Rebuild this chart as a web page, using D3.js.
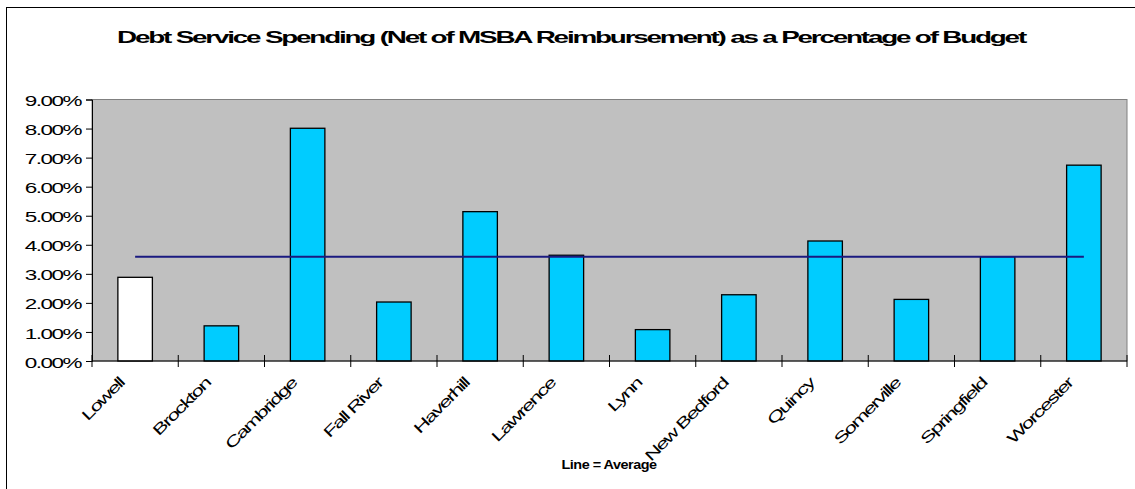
<!DOCTYPE html>
<html>
<head>
<meta charset="utf-8">
<script src="https://cdnjs.cloudflare.com/ajax/libs/d3/7.8.5/d3.min.js"></script>
<style>
  html, body { margin: 0; padding: 0; background: #ffffff; }
  svg { display: block; }
  text { font-family: Arial, "Liberation Sans", sans-serif; fill: #000; }
</style>
</head>
<body>
<svg id="chart" width="1135" height="489"></svg>
<script>
// ---- Data ----
const categories = ["Lowell", "Brockton", "Cambridge", "Fall River", "Haverhill", "Lawrence",
                    "Lynn", "New Bedford", "Quincy", "Somerville", "Springfield", "Worcester"];
const values = [2.88, 1.21, 8.01, 2.03, 5.14, 3.64, 1.08, 2.28, 4.13, 2.12, 3.59, 6.74]; // percent
const averageValue = [3.59]; // percent
const yTickValues = [0, 1, 2, 3, 4, 5, 6, 7, 8, 9];
const titleText = "Debt Service Spending (Net of MSBA Reimbursement) as a Percentage of Budget";
const noteText = "Line = Average";
const highlighted = ["Lowell"];

// ---- Layout ----
const svg = d3.select("#chart");
const plot = { left: 92, right: 1127, top: 99.5, bottom: 361 };
const stretch = 1.5;

// outer chart border (extends past right/bottom edge)
svg.append("rect")
  .attr("x", 6.5).attr("y", 7.5)
  .attr("width", 1140).attr("height", 500)
  .attr("fill", "#ffffff").attr("stroke", "#000").attr("stroke-width", 1);

const x = d3.scaleBand()
  .domain(categories)
  .range([plot.left, plot.right])
  .paddingInner(0.6)
  .paddingOuter(0.3);

const y = d3.scaleLinear()
  .domain([0, 9])
  .range([plot.bottom, plot.top]);

// plot area
svg.append("rect")
  .attr("x", plot.left).attr("y", plot.top)
  .attr("width", plot.right - plot.left).attr("height", plot.bottom - plot.top)
  .attr("fill", "#C0C0C0").attr("stroke", "#808080").attr("stroke-width", 1);

// bars
svg.append("g").selectAll("rect")
  .data(categories.map((c, i) => ({ c, v: values[i] })))
  .join("rect")
  .attr("x", d => x(d.c))
  .attr("y", d => y(d.v))
  .attr("width", x.bandwidth())
  .attr("height", d => y(0) - y(d.v))
  .attr("fill", d => highlighted.includes(d.c) ? "#ffffff" : "#00CCFF")
  .attr("stroke", "#000").attr("stroke-width", 1.3);

// average line
const first = categories[0], last = categories[categories.length - 1];
svg.append("line")
  .attr("x1", x(first) + x.bandwidth() / 2)
  .attr("x2", x(last) + x.bandwidth() / 2)
  .attr("y1", y(averageValue[0])).attr("y2", y(averageValue[0]))
  .attr("stroke", "#1a1a80").attr("stroke-width", 2);

// y axis
const yAxis = svg.append("g")
  .attr("transform", `translate(${plot.left},0)`)
  .call(d3.axisLeft(y).tickValues(yTickValues).tickFormat(d => d.toFixed(2) + "%").tickSize(6).tickPadding(5));
yAxis.select(".domain").attr("stroke", "#000");
yAxis.selectAll(".tick line").attr("stroke", "#000");
yAxis.selectAll(".tick text")
  .attr("x", null).attr("dy", null)
  .attr("dominant-baseline", "central")
  .attr("transform", `translate(-11,1) scale(${stretch},1)`)
  .style("font-size", "15px").style("letter-spacing", "-1px")
  .style("font-family", "Arial, 'Liberation Sans', sans-serif")
  .attr("fill", "#000");

// x axis line
svg.append("line")
  .attr("x1", plot.left).attr("x2", plot.right)
  .attr("y1", plot.bottom).attr("y2", plot.bottom)
  .attr("stroke", "#000").attr("stroke-width", 1);

// x ticks at category boundaries
const boundaries = categories.map(c => x(c) - (x.step() - x.bandwidth()) / 2).concat([plot.right]);
svg.append("g").selectAll("line")
  .data(boundaries)
  .join("line")
  .attr("x1", d => d).attr("x2", d => d)
  .attr("y1", plot.bottom - 6).attr("y2", plot.bottom + 6)
  .attr("stroke", "#000").attr("stroke-width", 1);

// x labels rotated
svg.append("g").selectAll("text")
  .data(categories)
  .join("text")
  .attr("text-anchor", "end")
  .attr("transform", d => `translate(${x(d) + x.bandwidth() / 2 - 10},${plot.bottom + 23}) rotate(-45) scale(${stretch},1)`)
  .style("font-size", "15px").style("letter-spacing", "-1.2px")
  .text(d => d);

// title
svg.append("text")
  .attr("x", 571).attr("y", 43)
  .attr("text-anchor", "middle")
  .attr("textLength", 908).attr("lengthAdjust", "spacingAndGlyphs")
  .style("font-size", "16.5px").style("font-weight", "bold").style("letter-spacing", "-1.3px")
  .text(titleText);

// note
svg.append("text")
  .attr("x", 609).attr("y", 469)
  .attr("text-anchor", "middle")
  .attr("textLength", 95).attr("lengthAdjust", "spacingAndGlyphs")
  .style("font-size", "12px").style("font-weight", "bold").style("letter-spacing", "-0.4px")
  .text(noteText);
</script>
</body>
</html>
